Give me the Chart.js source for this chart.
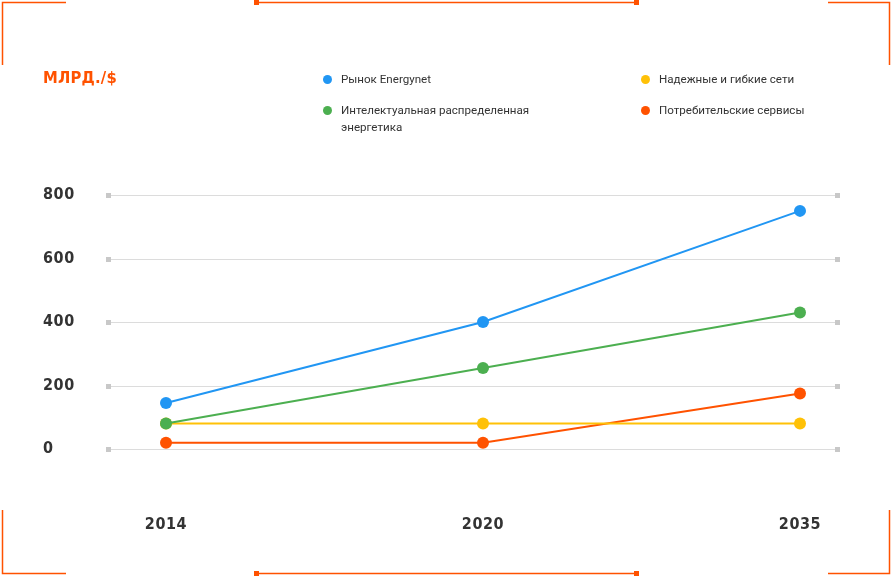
<!DOCTYPE html>
<html>
<head>
<meta charset="utf-8">
<script src="https://cdn.jsdelivr.net/npm/chart.js@4"></script>
<style>
  html, body { margin: 0; padding: 0; background: #fff; }
  .wrap { position: relative; width: 892px; height: 576px; }
  canvas { display: block; }
  .unit {
    position: absolute; left: 43px; top: 68px; letter-spacing: 0.2px;
    font: bold 16.5px "DejaVu Sans Condensed", sans-serif; color: #ff5200;
  }
  .legend { position: absolute; left: 0; top: 0; font: 11.6px Roboto, sans-serif; color: #333; }
  .legend .item { position: absolute; white-space: nowrap; line-height: 17px; }
  .legend .dot {
    position: absolute; left: -18px; top: 4px; width: 9px; height: 9px; border-radius: 50%;
  }
</style>
</head>
<body>
<div class="wrap">
  <canvas id="chart" width="892" height="576"></canvas>
  <div class="unit">МЛРД./$</div>
  <div class="legend" id="legend"></div>
</div>
<script>
const years = ['2014', '2020', '2035'];
const seriesNames = [
  'Рынок Energynet',
  'Интелектуальная распределенная<br>энергетика',
  'Надежные и гибкие сети',
  'Потребительские сервисы'
];
const energynet = [145, 400, 750];
const smartEnergy = [80, 255, 430];
const reliableGrids = [80, 80, 80];
const consumerServices = [20, 20, 175];
const yTicks = [0, 200, 400, 600, 800];

const colors = ['#2196f3', '#4caf50', '#ffc107', '#ff5200'];
const values = [energynet, smartEnergy, reliableGrids, consumerServices];

// html legend, two columns
const legendPos = [[341, 71], [341, 102], [659, 71], [659, 102]];
const legend = document.getElementById('legend');
seriesNames.forEach((name, i) => {
  const item = document.createElement('div');
  item.className = 'item';
  item.style.left = legendPos[i][0] + 'px';
  item.style.top = legendPos[i][1] + 'px';
  item.innerHTML = '<span class="dot" style="background:' + colors[i] + '"></span>' + name;
  legend.appendChild(item);
});

// horizontal grid with little squares at both ends
const gridPlugin = {
  id: 'grid',
  beforeDatasetsDraw(chart) {
    const { ctx, chartArea, scales } = chart;
    const x0 = chartArea.left - 56, x1 = chartArea.right + 36;
    ctx.save();
    yTicks.forEach(v => {
      const y = Math.round(scales.y.getPixelForValue(v)) + 0.5;
      ctx.strokeStyle = '#dcdcdc';
      ctx.lineWidth = 1;
      ctx.beginPath();
      ctx.moveTo(x0, y);
      ctx.lineTo(x1, y);
      ctx.stroke();
      ctx.fillStyle = '#c8c8c8';
      ctx.fillRect(x0 - 4, y - 2.5, 5, 5);
      ctx.fillRect(x1 - 1, y - 2.5, 5, 5);
    });
    ctx.restore();
  }
};

// orange corner frame, plus letter spacing for the axis labels
const framePlugin = {
  id: 'frame',
  beforeDraw(chart) {
    const ctx = chart.ctx;
    ctx.save();
    ctx.strokeStyle = '#ff5200';
    ctx.fillStyle = '#ff5200';
    ctx.lineWidth = 1.5;
    const seg = (pts) => {
      ctx.beginPath();
      ctx.moveTo(pts[0][0], pts[0][1]);
      for (let i = 1; i < pts.length; i++) ctx.lineTo(pts[i][0], pts[i][1]);
      ctx.stroke();
    };
    seg([[2.5, 65], [2.5, 2.5], [66, 2.5]]);
    seg([[828, 2.5], [889.5, 2.5], [889.5, 65]]);
    seg([[2.5, 510], [2.5, 573.5], [66, 573.5]]);
    seg([[828, 573.5], [889.5, 573.5], [889.5, 510]]);
    seg([[256, 2.5], [636, 2.5]]);
    seg([[256, 573.5], [636, 573.5]]);
    ctx.fillRect(254, 0, 5, 5);
    ctx.fillRect(634, 0, 5, 5);
    ctx.fillRect(254, 571, 5, 5);
    ctx.fillRect(634, 571, 5, 5);
    ctx.restore();
    ctx.letterSpacing = '0.6px';
  }
};

const tickFont = { family: 'DejaVu Sans Condensed', size: 16, weight: 'bold' };

new Chart(document.getElementById('chart'), {
  type: 'line',
  data: {
    labels: years,
    datasets: values.map((data, i) => ({
      label: seriesNames[i],
      data,
      borderColor: colors[i],
      backgroundColor: colors[i],
      borderWidth: 2,
      pointRadius: 6,
      pointHoverRadius: 6,
      pointBorderWidth: 0,
      tension: 0,
      clip: false
    }))
  },
  options: {
    responsive: false,
    animation: false,
    events: [],
    layout: { padding: { left: 43, right: 92, top: 195, bottom: 0 } },
    plugins: {
      legend: { display: false },
      title: { display: false },
      tooltip: { enabled: false }
    },
    scales: {
      x: {
        offset: false,
        afterFit(scale) { scale.height = 127; },
        grid: { display: false, drawTicks: false },
        border: { display: false },
        ticks: {
          padding: 66,
          maxRotation: 0,
          color: '#333',
          font: tickFont
        }
      },
      y: {
        min: 0,
        max: 800,
        afterFit(scale) { scale.width = 123; },
        grid: { display: false, drawTicks: false },
        border: { display: false },
        ticks: {
          stepSize: 200,
          crossAlign: 'far',
          padding: 0,
          color: '#333',
          font: tickFont
        }
      }
    }
  },
  plugins: [framePlugin, gridPlugin]
});
</script>
</body>
</html>
